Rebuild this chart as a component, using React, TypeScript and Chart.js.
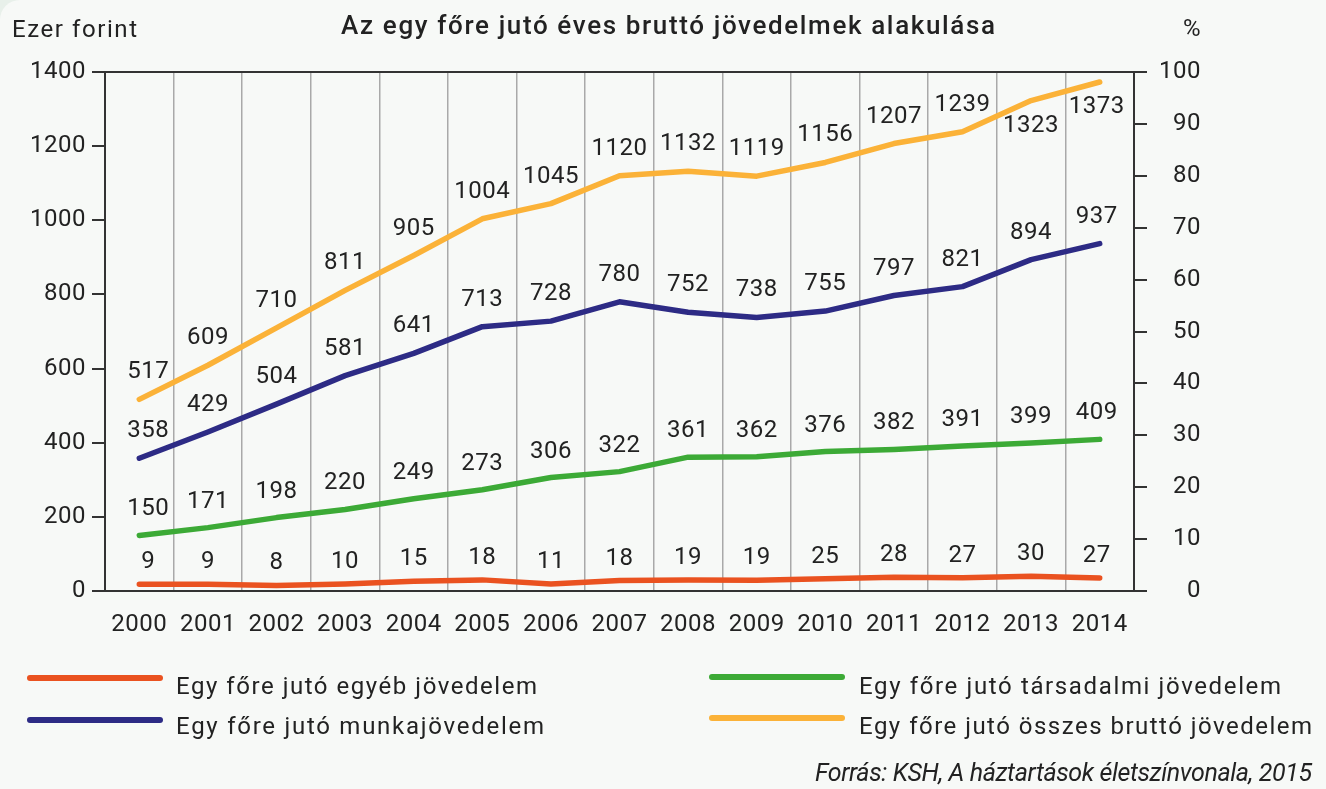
import React, { useEffect, useRef } from 'react';
import { Chart, registerables } from 'chart.js';

Chart.register(...registerables);

// ---------- data ----------
const years = ['2000', '2001', '2002', '2003', '2004', '2005', '2006', '2007', '2008', '2009', '2010', '2011', '2012', '2013', '2014'];

// "egyéb" line as drawn in the picture, and its printed labels
const otherIncomeLine = [18, 18, 15, 19, 26, 30, 19, 28, 30, 29, 33, 37, 36, 40, 35];
const otherIncomeLabels = [9, 9, 8, 10, 15, 18, 11, 18, 19, 19, 25, 28, 27, 30, 27];
const laborIncome = [358, 429, 504, 581, 641, 713, 728, 780, 752, 738, 755, 797, 821, 894, 937];
const socialIncome = [150, 171, 198, 220, 249, 273, 306, 322, 361, 362, 376, 382, 391, 399, 409];
const totalIncome = [517, 609, 710, 811, 905, 1004, 1045, 1120, 1132, 1119, 1156, 1207, 1239, 1323, 1373];

const leftAxis = { min: 0, max: 1400, step: 200 };
const rightAxis = { min: 0, max: 100, step: 10 };

const titleText = 'Az egy főre jutó éves bruttó jövedelmek alakulása';
const leftUnit = 'Ezer forint';
const rightUnit = '%';
const legendNames = [
  'Egy főre jutó egyéb jövedelem',
  'Egy főre jutó munkajövedelem',
  'Egy főre jutó társadalmi jövedelem',
  'Egy főre jutó összes bruttó jövedelem',
];
const sourceText = 'Forrás: KSH, A háztartások életszínvonala, 2015';

// ---------- styles ----------
const C_RED = '#ea5220';
const C_NAVY = '#2d2b85';
const C_GREEN = '#3caa36';
const C_YELLOW = '#fbb238';
const TEXT = '#222222';
const AXIS = '#333333';
const GRID = '#a9a9a9';
const FONT = 'Roboto';

const series = [
  { name: legendNames[0], data: otherIncomeLine, labels: otherIncomeLabels, color: C_RED, dy: -22 },
  { name: legendNames[1], data: laborIncome, labels: laborIncome, color: C_NAVY, dy: -27 },
  { name: legendNames[2], data: socialIncome, labels: socialIncome, color: C_GREEN, dy: -26 },
  { name: legendNames[3], data: totalIncome, labels: totalIncome, color: C_YELLOW, dy: -27, belowFrom: 13, belowDy: 25 },
];

function drawFitted(ctx: CanvasRenderingContext2D, text: string, x: number, y: number, font: string, target: number, align: 'left' | 'right' | 'center') {
  ctx.save();
  ctx.font = font;
  (ctx as any).letterSpacing = '0px';
  const w = ctx.measureText(text).width;
  const n = Math.max(1, text.length - 1);
  let ls = (target - w) / n;
  ls = Math.max(-2, Math.min(4, ls));
  (ctx as any).letterSpacing = ls + 'px';
  const total = w + ls * n;
  const sx = align === 'right' ? x - total : align === 'center' ? x - total / 2 : x;
  ctx.textAlign = 'left';
  ctx.textBaseline = 'middle';
  ctx.fillStyle = TEXT;
  ctx.fillText(text, sx, y);
  ctx.restore();
}

const overlayPlugin = {
  id: 'overlay',
  beforeDraw(chart: any) {
    chart.ctx.letterSpacing = '0.5px';
  },
  afterDatasetsDraw(chart: any) {
    const ctx: CanvasRenderingContext2D = chart.ctx;
    ctx.save();
    ctx.font = `24px ${FONT}`;
    (ctx as any).letterSpacing = '0.5px';
    ctx.fillStyle = TEXT;
    ctx.textAlign = 'center';
    ctx.textBaseline = 'middle';
    series.forEach((s: any, i) => {
      const meta = chart.getDatasetMeta(i);
      meta.data.forEach((pt: any, j: number) => {
        let dy = s.dy;
        if (s.belowFrom !== undefined && j >= s.belowFrom) dy = s.belowDy;
        const dx = j === 0 ? 9 : j === meta.data.length - 1 ? -3 : 0;
        ctx.fillText(String(s.labels[j]), pt.x + dx, pt.y + dy);
      });
    });
    ctx.restore();
  },
  afterDraw(chart: any) {
    const ctx: CanvasRenderingContext2D = chart.ctx;
    drawFitted(ctx, titleText, 668, 27, `500 26px ${FONT}`, 654, 'center');
    drawFitted(ctx, leftUnit, 12, 31, `24px ${FONT}`, 125, 'left');
    drawFitted(ctx, rightUnit, 1183, 30, `24px ${FONT}`, 22, 'left');

    // legend
    const rows = [
      { x1: 30, x2: 160, y: 678, tx: 176, ty: 688, w: 361, s: series[0] },
      { x1: 30, x2: 160, y: 720, tx: 176, ty: 728, w: 368, s: series[1] },
      { x1: 712, x2: 842, y: 677, tx: 859, ty: 688, w: 422, s: series[2] },
      { x1: 712, x2: 842, y: 718, tx: 859, ty: 728, w: 453, s: series[3] },
    ];
    rows.forEach((r) => {
      ctx.save();
      ctx.strokeStyle = r.s.color;
      ctx.lineWidth = 6;
      ctx.lineCap = 'round';
      ctx.beginPath();
      ctx.moveTo(r.x1, r.y);
      ctx.lineTo(r.x2, r.y);
      ctx.stroke();
      ctx.restore();
      drawFitted(ctx, r.s.name, r.tx, r.ty, `24px ${FONT}`, r.w, 'left');
    });

    drawFitted(ctx, sourceText, 1312, 775, `italic 25px ${FONT}`, 497, 'right');
  },
};

export default function App() {
  const ref = useRef<HTMLCanvasElement>(null);

  useEffect(() => {
    if (!ref.current) return;
    const chart = new Chart(ref.current, {
      type: 'line',
      data: {
        labels: years,
        datasets: series.map((s) => ({
          label: s.name,
          data: s.data,
          borderColor: s.color,
          backgroundColor: s.color,
          borderWidth: 5.5,
          pointRadius: 0,
          tension: 0,
          borderCapStyle: 'round',
          borderJoinStyle: 'round',
          yAxisID: 'y',
        })) as any,
      },
      options: {
        responsive: false,
        maintainAspectRatio: false,
        devicePixelRatio: 1,
        animation: false,
        layout: { padding: { left: 0, top: 72, right: 125, bottom: 148 } },
        plugins: {
          legend: { display: false },
          title: { display: false },
          tooltip: { enabled: false },
        },
        scales: {
          x: {
            type: 'category',
            offset: true,
            grid: { offset: true, color: GRID, lineWidth: 1.5, drawTicks: false },
            border: { display: true, color: AXIS, width: 2 },
            ticks: { color: TEXT, font: { family: FONT, size: 24 }, padding: 20, maxRotation: 0, autoSkip: false },
            afterFit(scale: any) {
              scale.height = 50;
              scale.paddingLeft = 0;
              scale.paddingRight = 0;
            },
          },
          y: {
            position: 'left',
            min: leftAxis.min,
            max: leftAxis.max,
            ticks: {
              stepSize: leftAxis.step,
              color: TEXT,
              font: { family: FONT, size: 24 },
              padding: 6,
              callback: (v: any) => String(v),
            },
            grid: {
              drawOnChartArea: true,
              color: (c: any) => (c.tick && c.tick.value === leftAxis.max ? AXIS : 'rgba(0,0,0,0)'),
              tickColor: AXIS,
              tickLength: 13,
              lineWidth: 2,
            },
            border: { display: true, color: AXIS, width: 2 },
            afterFit(scale: any) {
              scale.width = 105;
              scale.paddingTop = 0;
              scale.paddingBottom = 0;
            },
          },
          y2: {
            position: 'right',
            min: rightAxis.min,
            max: rightAxis.max,
            ticks: {
              stepSize: rightAxis.step,
              color: TEXT,
              font: { family: FONT, size: 24 },
              crossAlign: 'far',
              padding: 6,
              callback: (v: any) => String(v),
            },
            grid: { drawOnChartArea: false, tickColor: AXIS, tickLength: 13, lineWidth: 2, color: AXIS },
            border: { display: true, color: AXIS, width: 2 },
            afterFit(scale: any) {
              scale.width = 67;
              scale.paddingTop = 0;
              scale.paddingBottom = 0;
            },
          },
        },
      } as any,
      plugins: [overlayPlugin as any],
    });
    return () => chart.destroy();
  }, []);

  return (
    <div style={{ position: 'fixed', left: 0, top: 0, width: 1326, height: 789, background: '#e8f0ea', overflow: 'hidden' }}>
      <div style={{ position: 'absolute', left: 0, top: 0, width: 1326, height: 789, background: '#f7f9f7', borderTopLeftRadius: 20 }}>
        <canvas ref={ref} width={1326} height={789} style={{ display: 'block', width: 1326, height: 789 }} />
      </div>
    </div>
  );
}
